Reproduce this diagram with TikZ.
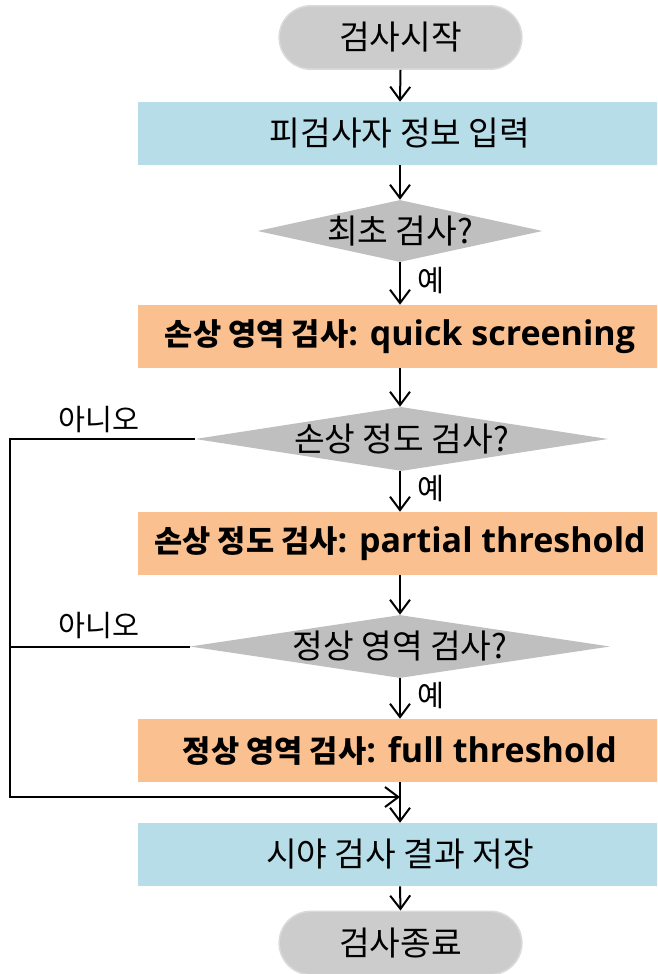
\documentclass[tikz,border=0pt]{standalone}
\usepackage{fontspec}
\setmainfont{Open Sans}
\newfontfamily\kr{Noto Sans CJK KR}
\newfontfamily\latin{Open Sans}
\usetikzlibrary{shapes.geometric,shapes.misc,arrows.meta}
\definecolor{termgray}{RGB}{204,204,204}
\definecolor{termedge}{RGB}{218,218,218}
\definecolor{decgray}{RGB}{191,191,191}
\definecolor{procblue}{RGB}{183,221,232}
\definecolor{testorange}{RGB}{250,192,144}
\newcommand\krtext{\kr\fontsize{25}{30}\selectfont}
\newcommand\testkr[1]{{\kr\bfseries\fontsize{23}{28}\selectfont #1}}
\tikzset{
  terminal/.style={rounded rectangle, fill=termgray, draw=termedge, line width=1.2pt,
    minimum width=182pt, minimum height=47.5pt, inner sep=0pt, font=\krtext},
  process/.style={rectangle, fill=procblue, minimum width=393pt, minimum height=47.25pt,
    inner sep=0pt, font=\krtext},
  testbox/.style={rectangle, fill=testorange, minimum width=393pt, minimum height=47.25pt,
    inner sep=0pt, font=\latin\bfseries\fontsize{25.5}{30}\selectfont},
  decision/.style={diamond, fill=decgray, inner sep=0pt},
  dectext/.style={font=\krtext},
  flow/.style={line width=1.5pt, -{Straight Barb[length=10pt,width=15pt,line width=1.5pt]}},
  branch/.style={line width=1.5pt},
  yeslabel/.style={anchor=west, font=\kr\fontsize{22}{26}\selectfont},
  nolabel/.style={font=\kr\fontsize{22}{26}\selectfont}
}
\begin{document}
\begin{tikzpicture}[x=0.75pt, y=-0.75pt]
  \clip (0,0) rectangle (657,974);
  \useasboundingbox (0,0) rectangle (657,974);

  \node[terminal] (start) at (400.5,37.5) {검사시작};
  \node[process] (info) at (400,133.5) {피검사자 정보 입력};
  \node[decision, minimum width=213.75pt, minimum height=46.5pt,
        label={[dectext]center:최초 검사?}] (d1) at (400,231) {};
  \node[testbox] (quick) at (400,336.5) {\testkr{손상 영역 검사}: quick screening};
  \node[decision, minimum width=309.75pt, minimum height=48pt,
        label={[dectext]center:손상 정도 검사?}] (d2) at (401.5,439) {};
  \node[testbox] (partial) at (400,543.5) {\testkr{손상 정도 검사}: partial threshold};
  \node[decision, minimum width=315pt, minimum height=47.25pt,
        label={[dectext]center:정상 영역 검사?}] (d3) at (400,646.5) {};
  \node[testbox] (full) at (400,750.5) {\testkr{정상 영역 검사}: full threshold};
  \node[process] (save) at (400,854.5) {시야 검사 결과 저장};
  \node[terminal] (stop) at (400.5,943) {검사종료};

  % main flow
  \draw[flow] (start.south) -- (info.north);
  \draw[flow] (info.south) -- (d1.north);
  \draw[flow] (d1.south) -- (quick.north) node[yeslabel, pos=0.42, xshift=9pt] (y1) {예};
  \draw[flow] (quick.south) -- (d2.north -| quick.south);
  \draw[flow] (d2.south -| partial.north) -- (partial.north) node[yeslabel, pos=0.42, xshift=9pt] (y2) {예};
  \draw[flow] (partial.south) -- (d3.north);
  \draw[flow] (d3.south) -- (full.north) node[yeslabel, pos=0.42, xshift=9pt] (y3) {예};
  \draw[flow] (full.south) -- (save.north);
  \draw[flow] (save.south) -- (stop.north);

  % "no" branches rejoin before saving
  \coordinate (rail2) at (10,439);
  \coordinate (rail3) at (10,646.5);
  \coordinate (join) at (400,797);
  \draw[branch] (d3.west) -- (rail3);
  \draw[flow] (d2.west) -- (rail2) |- (join);
  \node[nolabel] (n2) at (99,420) {아니오};
  \node[nolabel] (n3) at (99,626) {아니오};
\end{tikzpicture}
\end{document}
